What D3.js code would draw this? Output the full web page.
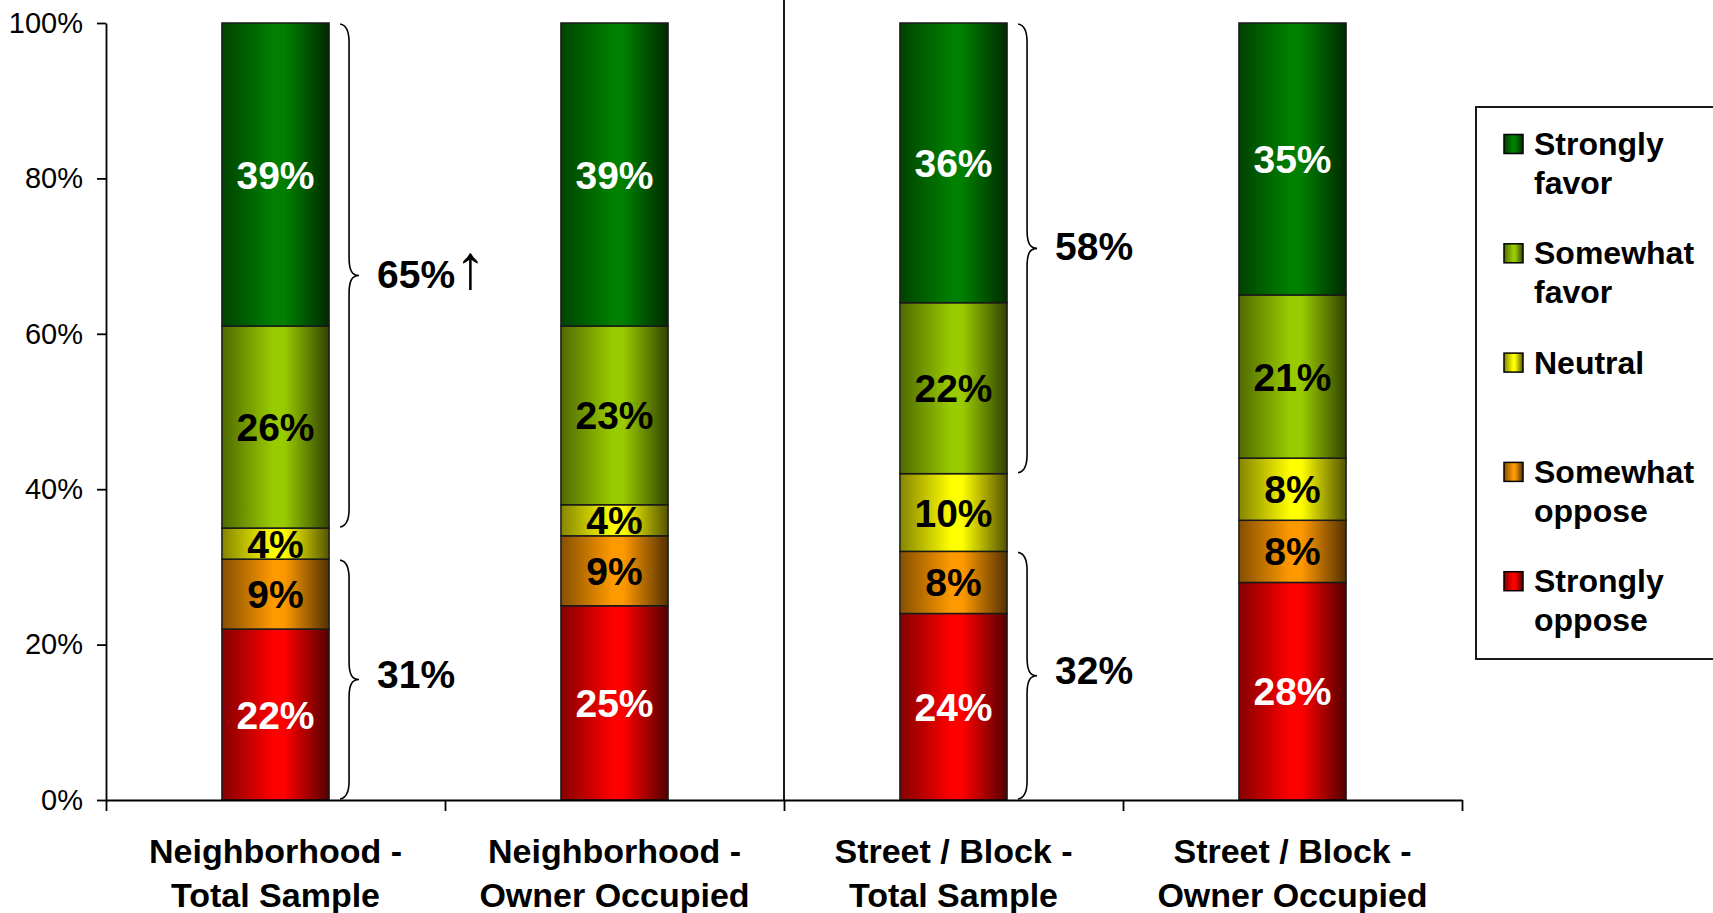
<!DOCTYPE html>
<html>
<head>
<meta charset="utf-8">
<script src="https://cdn.jsdelivr.net/npm/d3@7"></script>
<style>
  html, body { margin: 0; padding: 0; background: #fff; }
  svg { display: block; font-family: "Liberation Sans", Arial, sans-serif; }
</style>
</head>
<body>
<svg id="chart" width="1713" height="913"></svg>
<script>
// ---- data ----
const categories = [
  ["Neighborhood -", "Total Sample"],
  ["Neighborhood -", "Owner Occupied"],
  ["Street / Block -", "Total Sample"],
  ["Street / Block -", "Owner Occupied"]
];
const seriesKeys = ["Strongly oppose", "Somewhat oppose", "Neutral", "Somewhat favor", "Strongly favor"];
const stronglyOppose = [22, 25, 24, 28];
const somewhatOppose = [9, 9, 8, 8];
const neutral        = [4, 4, 10, 8];
const somewhatFavor  = [26, 23, 22, 21];
const stronglyFavor  = [39, 39, 36, 35];
const yTicks = [0, 20, 40, 60, 80, 100];
const legendItems = [
  ["Strongly", "favor"],
  ["Somewhat", "favor"],
  ["Neutral"],
  ["Somewhat", "oppose"],
  ["Strongly", "oppose"]
];
const legendKeys = ["Strongly favor", "Somewhat favor", "Neutral", "Somewhat oppose", "Strongly oppose"];
const braceCategories = [0, 2];
const braceFavorMarkers = ["\u2191", ""];

// ---- styles ----
const baseColors = {
  "Strongly favor": "#008000",
  "Somewhat favor": "#99cc00",
  "Neutral": "#ffff00",
  "Somewhat oppose": "#ff9900",
  "Strongly oppose": "#ff0000"
};
const labelColors = {
  "Strongly favor": "#fff",
  "Somewhat favor": "#000",
  "Neutral": "#000",
  "Somewhat oppose": "#000",
  "Strongly oppose": "#fff"
};

const series = [stronglyOppose, somewhatOppose, neutral, somewhatFavor, stronglyFavor];
const table = categories.map((c, i) => {
  const row = { idx: i };
  seriesKeys.forEach((k, j) => row[k] = series[j][i]);
  return row;
});
const stacked = d3.stack().keys(seriesKeys)(table);

const svg = d3.select("#chart");
const defs = svg.append("defs");
seriesKeys.forEach((k, i) => {
  const c = d3.rgb(baseColors[k]);
  const g = defs.append("linearGradient").attr("id", "grad" + i)
    .attr("x1", "0%").attr("x2", "100%").attr("y1", "0%").attr("y2", "0%");
  const dark = (f) => d3.rgb(c.r * f, c.g * f, c.b * f).formatHex();
  g.append("stop").attr("offset", "0%").attr("stop-color", dark(0.52));
  g.append("stop").attr("offset", "48%").attr("stop-color", c.formatHex());
  g.append("stop").attr("offset", "58%").attr("stop-color", c.formatHex());
  g.append("stop").attr("offset", "100%").attr("stop-color", dark(0.33));
});

const plotLeft = 106, plotRight = 1462, plotTop = 23, plotBottom = 800;

const y = d3.scaleLinear().domain([0, 100]).range([plotBottom, plotTop]);
const x = d3.scaleBand().domain(d3.range(categories.length))
  .range([plotLeft, plotRight]).paddingInner(0.684).paddingOuter(0.342);
const xb = d3.scaleLinear().domain([0, categories.length]).range([plotLeft, plotRight]);

// separator line
svg.append("line")
  .attr("x1", xb(2)).attr("x2", xb(2))
  .attr("y1", 0).attr("y2", y(0))
  .attr("stroke", "#000").attr("stroke-width", 1.8);

// bars
const layers = svg.append("g").selectAll("g").data(stacked).join("g")
  .attr("fill", (d, i) => `url(#grad${i})`);
layers.selectAll("rect").data(d => d).join("rect")
  .attr("x", (d, i) => x(i))
  .attr("width", x.bandwidth())
  .attr("y", d => y(d[1]))
  .attr("height", d => y(d[0]) - y(d[1]))
  .attr("stroke", "#1a1a1a").attr("stroke-width", 1.5);

// bar labels
stacked.forEach((layer) => {
  const key = layer.key;
  svg.append("g").selectAll("text").data(layer).join("text")
    .attr("x", (d, i) => x(i) + x.bandwidth() / 2)
    .attr("y", d => (y(d[0]) + y(d[1])) / 2 + 14)
    .attr("text-anchor", "middle")
    .attr("font-size", 39).attr("font-weight", "bold")
    .attr("fill", labelColors[key])
    .text(d => (d[1] - d[0]) + "%");
});

// axes
const yAxis = svg.append("g").attr("transform", `translate(${plotLeft},0)`)
  .call(d3.axisLeft(y).tickValues(yTicks).tickFormat(d => d + "%")
    .tickSize(9).tickSizeOuter(0).tickPadding(14));
yAxis.selectAll("text").attr("font-size", 29).attr("font-family", "'Liberation Sans', Arial, sans-serif").attr("fill", "#000");
yAxis.selectAll("line,path").attr("stroke", "#000").attr("stroke-width", 1.8);

const xAxis = svg.append("g").attr("transform", `translate(0,${plotBottom})`)
  .call(d3.axisBottom(xb).tickValues(d3.range(categories.length + 1)).tickFormat("")
    .tickSize(11).tickSizeOuter(0));
xAxis.selectAll("line,path").attr("stroke", "#000").attr("stroke-width", 1.8);

// category labels
const catG = svg.append("g").selectAll("text").data(categories).join("text")
  .attr("text-anchor", "middle")
  .attr("font-size", 34).attr("font-weight", "bold").attr("fill", "#000");
catG.selectAll("tspan").data((d, i) => d.map(t => ({ t, i }))).join("tspan")
  .attr("x", d => x(d.i) + x.bandwidth() / 2)
  .attr("y", (d, j) => 863 + j * 44)
  .text(d => d.t);

// braces
function bracePath(x0, y0, y1) {
  const xv = x0 + 9, xt = x0 + 19, ym = (y0 + y1) / 2, r = 18;
  return `M${x0},${y0}` +
    `C${x0 + 6},${y0 + 1} ${xv},${y0 + 6} ${xv},${y0 + r}` +
    `L${xv},${ym - r}` +
    `C${xv},${ym - 5} ${xv + 3},${ym} ${xt},${ym}` +
    `C${xv + 3},${ym} ${xv},${ym + 5} ${xv},${ym + r}` +
    `L${xv},${y1 - r}` +
    `C${xv},${y1 - 6} ${x0 + 6},${y1 - 1} ${x0},${y1}`;
}
braceCategories.forEach((ci, bi) => {
  const bx = x(ci) + x.bandwidth() + 11;
  const neutralTop = stacked[2][ci][1];
  const opposeTop = stacked[1][ci][1];
  const favorTotal = somewhatFavor[ci] + stronglyFavor[ci];
  const opposeTotal = stronglyOppose[ci] + somewhatOppose[ci];
  const groups = [
    { y0: y(100), y1: y(neutralTop), label: favorTotal + "%", marker: braceFavorMarkers[bi], dy: 12 },
    { y0: y(opposeTop), y1: y(0), label: opposeTotal + "%", marker: "", dy: 8 }
  ];
  groups.forEach(gp => {
    svg.append("path").attr("d", bracePath(bx, gp.y0 + 1, gp.y1 - 1))
      .attr("fill", "none").attr("stroke", "#000").attr("stroke-width", 1.6);
    const t = svg.append("text")
      .attr("x", bx + 19 + 18)
      .attr("y", (gp.y0 + gp.y1) / 2 + gp.dy)
      .attr("font-size", 39).attr("font-weight", "bold").attr("fill", "#000")
      .text(gp.label);
    if (gp.marker) {
      t.append("tspan").attr("font-weight", "normal").attr("font-size", 62)
        .attr("dx", 0).text(gp.marker);
    }
  });
});

// legend
const lg = svg.append("g");
lg.append("rect").attr("x", 1476).attr("y", 107).attr("width", 240).attr("height", 552)
  .attr("fill", "#fff").attr("stroke", "#000").attr("stroke-width", 1.8);
legendItems.forEach((lines, i) => {
  const key = legendKeys[i];
  const si = seriesKeys.indexOf(key);
  const cy = 144 + i * 109.3;
  lg.append("rect").attr("x", 1504).attr("y", cy - 9.5).attr("width", 19).attr("height", 19)
    .attr("fill", `url(#grad${si})`).attr("stroke", "#000").attr("stroke-width", 1.5);
  const t = lg.append("text").attr("font-size", 32).attr("font-weight", "bold").attr("fill", "#000");
  lines.forEach((ln, j) => {
    t.append("tspan").attr("x", 1534).attr("y", cy + 11 + j * 39).text(ln);
  });
});
</script>
</body>
</html>
